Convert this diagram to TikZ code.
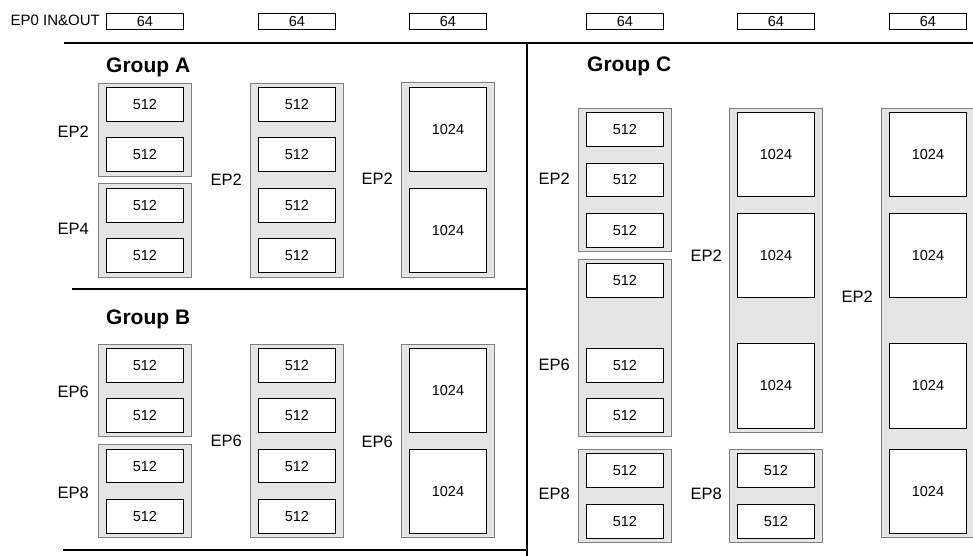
\documentclass[tikz,border=0pt]{standalone}
\usepackage{fontspec}
\setmainfont{Liberation Sans}
\definecolor{gfill}{HTML}{E5E5E5}
\definecolor{gline}{HTML}{7F7F7F}
\tikzset{
  ibx/.style={draw=black, line width=0.9pt, fill=white, inner sep=0pt, minimum width=77pt,
    font=\fontsize{14.5}{16}\selectfont},
  topbx/.style={draw=black, line width=0.9pt, fill=white, inner sep=0pt, minimum width=77pt,
    minimum height=16.6pt, font=\fontsize{14.5}{16}\selectfont},
  gbx/.style={draw=gline, line width=0.9pt, fill=gfill, inner sep=0pt, minimum width=93pt},
  eplab/.style={inner sep=0pt, anchor=east, font=\fontsize{16.5}{18}\selectfont},
  grplab/.style={inner sep=0pt, anchor=base west, font=\fontsize{21}{23}\selectfont\bfseries},
  sep/.style={line width=2.3pt, black}
}
\newcommand\ibox[5]{%
  \pgfmathsetmacro\hh{#4-#3}%
  \node[ibx, minimum height=\hh pt, anchor=north west] (#1) at (#2,#3) {#5};}
\newcommand\gbox[4]{%
  \pgfmathsetmacro\hh{#4-#3}%
  \node[gbx, minimum height=\hh pt, anchor=north west] (#1) at (#2-8,#3) {};}
\begin{document}
\begin{tikzpicture}[x=1pt,y=-1pt]
\useasboundingbox (0,0) rectangle (973,556);
% top row
\node[inner sep=0pt, anchor=base east, font=\fontsize{15}{17}\selectfont] (ep0) at (100,25.5) {EP0 IN\&OUT};
\foreach \xx/\nm in {106/t1,258/t2,409/t3,586/t4,737/t5,889/t6}
  \node[topbx, anchor=north west] (\nm) at (\xx,12.7) {64};
% separators
\coordinate (ttl) at (64,43);
\coordinate (ttr) at (975,43);
\coordinate (vt) at (527,42);
\coordinate (vb) at (527,558);
\coordinate (bl) at (72,289);
\coordinate (br) at (527,289);
\coordinate (btl) at (63,550);
\coordinate (btr) at (527,550);
\draw[sep] (ttl) -- (ttr);
\draw[sep] (vt) -- (vb);
\draw[sep] (bl) -- (br);
\draw[sep] (btl) -- (btr);
% ---------------- Group A
\node[grplab] (ga) at (106,72.5) {Group A};
\gbox{a1g1}{106}{82.7}{175.7}
\ibox{a1b1}{106}{86.7}{120.7}{512}
\ibox{a1b2}{106}{137.3}{170.7}{512}
\gbox{a1g2}{106}{183.3}{277.3}
\ibox{a1b3}{106}{187.7}{221.7}{512}
\ibox{a1b4}{106}{238.3}{272.3}{512}
\node[eplab] (a1l1) at (89,132) {EP2};
\node[eplab] (a1l2) at (89,229) {EP4};
\gbox{a2g}{258}{82.7}{277.3}
\ibox{a2b1}{258}{86.7}{120.7}{512}
\ibox{a2b2}{258}{137.3}{170.7}{512}
\ibox{a2b3}{258}{187.7}{221.7}{512}
\ibox{a2b4}{258}{238.3}{272.3}{512}
\node[eplab] (a2l) at (242,180) {EP2};
\gbox{a3g}{409}{82.3}{277.3}
\ibox{a3b1}{409}{86.7}{171}{1024}
\ibox{a3b2}{409}{187.7}{272.3}{1024}
\node[eplab] (a3l) at (393,179) {EP2};
% ---------------- Group B
\node[grplab] (gb) at (106,324) {Group B};
\gbox{b1g1}{106}{344}{436}
\ibox{b1b1}{106}{348.3}{381.7}{512}
\ibox{b1b2}{106}{398.3}{431.7}{512}
\gbox{b1g2}{106}{444.3}{537.3}
\ibox{b1b3}{106}{449}{482.3}{512}
\ibox{b1b4}{106}{499.3}{532.7}{512}
\node[eplab] (b1l1) at (89,392) {EP6};
\node[eplab] (b1l2) at (89,493) {EP8};
\gbox{b2g}{258}{344}{537.3}
\ibox{b2b1}{258}{348.3}{381.7}{512}
\ibox{b2b2}{258}{398.3}{431.7}{512}
\ibox{b2b3}{258}{449}{482.3}{512}
\ibox{b2b4}{258}{499.3}{532.7}{512}
\node[eplab] (b2l) at (242,441) {EP6};
\gbox{b3g}{409}{344}{537.3}
\ibox{b3b1}{409}{348.3}{432.3}{1024}
\ibox{b3b2}{409}{449}{533.3}{1024}
\node[eplab] (b3l) at (393,442) {EP6};
% ---------------- Group C
\node[grplab] (gc) at (587,71.5) {Group C};
\gbox{c1g1}{586}{107.7}{251}
\ibox{c1b1}{586}{112.3}{146}{512}
\ibox{c1b2}{586}{162.7}{196}{512}
\ibox{c1b3}{586}{213.3}{247.3}{512}
\gbox{c1g2}{586}{259}{436}
\ibox{c1b4}{586}{263.3}{296.7}{512}
\ibox{c1b5}{586}{348.3}{381.7}{512}
\ibox{c1b6}{586}{398.3}{431.7}{512}
\gbox{c1g3}{586}{449.3}{541.7}
\ibox{c1b7}{586}{453.3}{487.3}{512}
\ibox{c1b8}{586}{504}{537.7}{512}
\node[eplab] (c1l1) at (570,179) {EP2};
\node[eplab] (c1l2) at (570,365) {EP6};
\node[eplab] (c1l3) at (570,494) {EP8};
\gbox{c2g1}{737}{107.7}{432.3}
\ibox{c2b1}{737}{111.7}{196}{1024}
\ibox{c2b2}{737}{212.7}{296.7}{1024}
\ibox{c2b3}{737}{343.3}{427.7}{1024}
\gbox{c2g2}{737}{449}{541.7}
\ibox{c2b4}{737}{453.3}{486.7}{512}
\ibox{c2b5}{737}{504}{537.7}{512}
\node[eplab] (c2l1) at (722,255.5) {EP2};
\node[eplab] (c2l2) at (722,494) {EP8};
\gbox{c3g}{889}{107.7}{537.3}
\ibox{c3b1}{889}{111.7}{196}{1024}
\ibox{c3b2}{889}{212.7}{296.7}{1024}
\ibox{c3b3}{889}{343.3}{427.7}{1024}
\ibox{c3b4}{889}{449}{533.3}{1024}
\node[eplab] (c3l) at (873,297) {EP2};
\end{tikzpicture}
\end{document}
